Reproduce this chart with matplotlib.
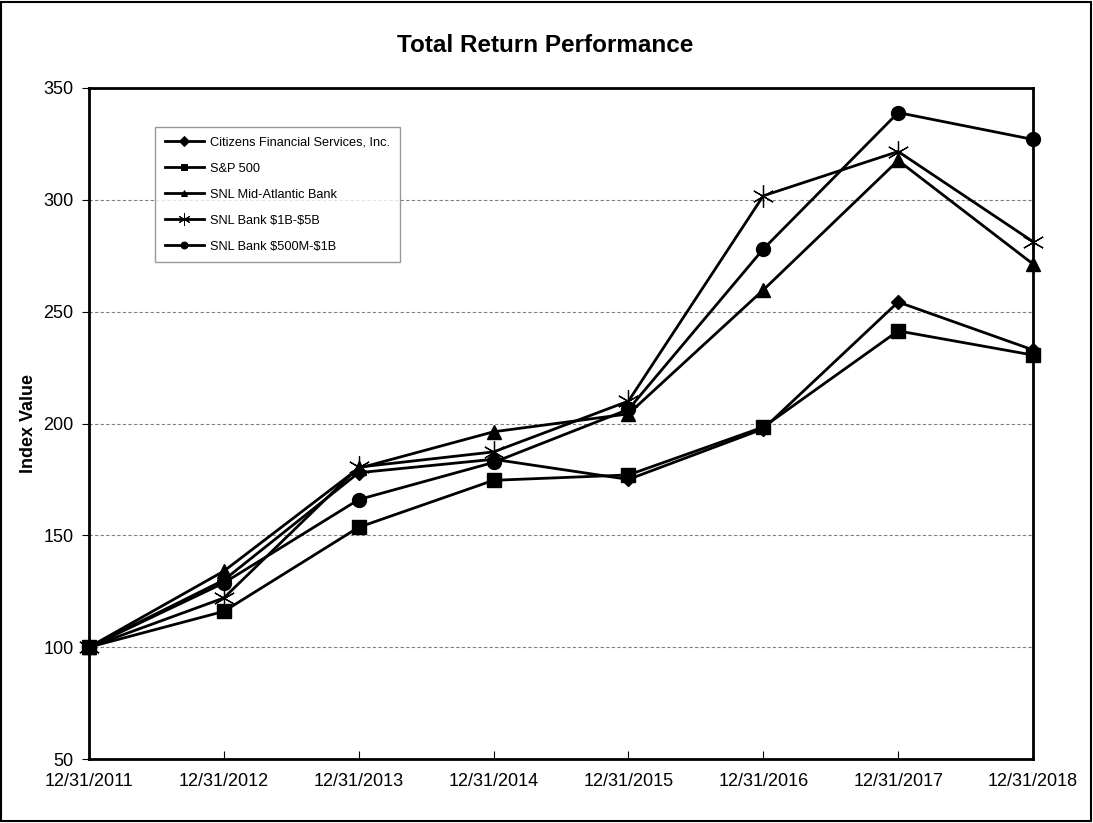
import matplotlib.pyplot as plt
from matplotlib.patches import Rectangle

plt.rcParams['font.family'] = ['Liberation Sans', 'DejaVu Sans']

years = ['12/31/2011', '12/31/2012', '12/31/2013', '12/31/2014',
         '12/31/2015', '12/31/2016', '12/31/2017', '12/31/2018']

citizens = [100, 130, 178, 184, 175, 197.6, 254.3, 232.9]
sp500 = [100, 116, 153.6, 174.6, 177, 198.4, 241.4, 230.6]
mid_atlantic = [100, 134, 180, 196.3, 204.3, 259.7, 317.6, 271.3]
bank_1b_5b = [100, 122, 180.5, 187.3, 210, 301.8, 321.6, 281.3]
bank_500m_1b = [100, 128.7, 166, 182.6, 206.3, 278, 339, 327]

series = [
    ('Citizens Financial Services, Inc.', citizens, 'D', 7),
    ('S&P 500', sp500, 's', 10),
    ('SNL Mid-Atlantic Bank', mid_atlantic, '^', 10),
    ('SNL Bank \\$1B-\\$5B', bank_1b_5b, (6, 2, 0), 16),
    ('SNL Bank \\$500M-\\$1B', bank_500m_1b, 'o', 10),
]

fig = plt.figure(figsize=(10.93, 8.23), dpi=100)
ax = fig.add_axes([89 / 1093, 1 - 759 / 823, 944 / 1093, 671 / 823])

x = list(range(len(years)))
for label, vals, mk, ms in series:
    if mk == (6, 2, 0):
        ax.plot(x, vals, color='black', lw=2, marker=mk, ms=ms,
                mew=0.9, mec='black', clip_on=False, zorder=3)
    else:
        ax.plot(x, vals, color='black', lw=2, marker=mk, ms=ms,
                mec='black', mfc='black', clip_on=False, zorder=3)

ax.set_xlim(0, 7)
ax.set_ylim(50, 350)
ax.set_yticks(range(50, 351, 50))
ax.set_xticks(x)
ax.set_xticklabels(years)
ax.tick_params(axis='x', direction='in', length=6, labelsize=13, pad=10, color='black')
ax.tick_params(axis='y', direction='out', length=5, labelsize=13, pad=6, color='black')
for sp in ax.spines.values():
    sp.set_linewidth(2)
    sp.set_color('black')

for yv in range(100, 301, 50):
    ax.axhline(yv, color='#808080', lw=0.8, ls=(0, (3, 2)), zorder=1)

ax.set_ylabel('Index Value', fontsize=13, fontweight='bold', labelpad=5)
fig.text(545 / 1093, 1 - 45 / 823, 'Total Return Performance', ha='center', va='center',
         fontsize=17.5, fontweight='bold')

leg_handles = []
for label, vals, mk, ms in series:
    h, = ax.plot([], [], color='black', lw=2, marker=mk, ms=5 if mk != (6, 2, 0) else 9,
                 mew=0.7, mfc='black', mec='black')
    leg_handles.append(h)
leg = ax.legend(leg_handles, [s[0] for s in series], loc='upper left',
                bbox_to_anchor=(66 / 944, 1 - 39 / 671), borderaxespad=0,
                fontsize=9.2, frameon=True, fancybox=False,
                edgecolor='#808080', handlelength=3.1, labelspacing=1.1,
                borderpad=0.75, handletextpad=0.45)
leg.get_frame().set_linewidth(1)

fig.patches.append(Rectangle((0.001, 0.002), 0.997, 0.996, transform=fig.transFigure,
                             fill=False, edgecolor='black', lw=1.5))

fig.savefig('out.png', dpi=100)
